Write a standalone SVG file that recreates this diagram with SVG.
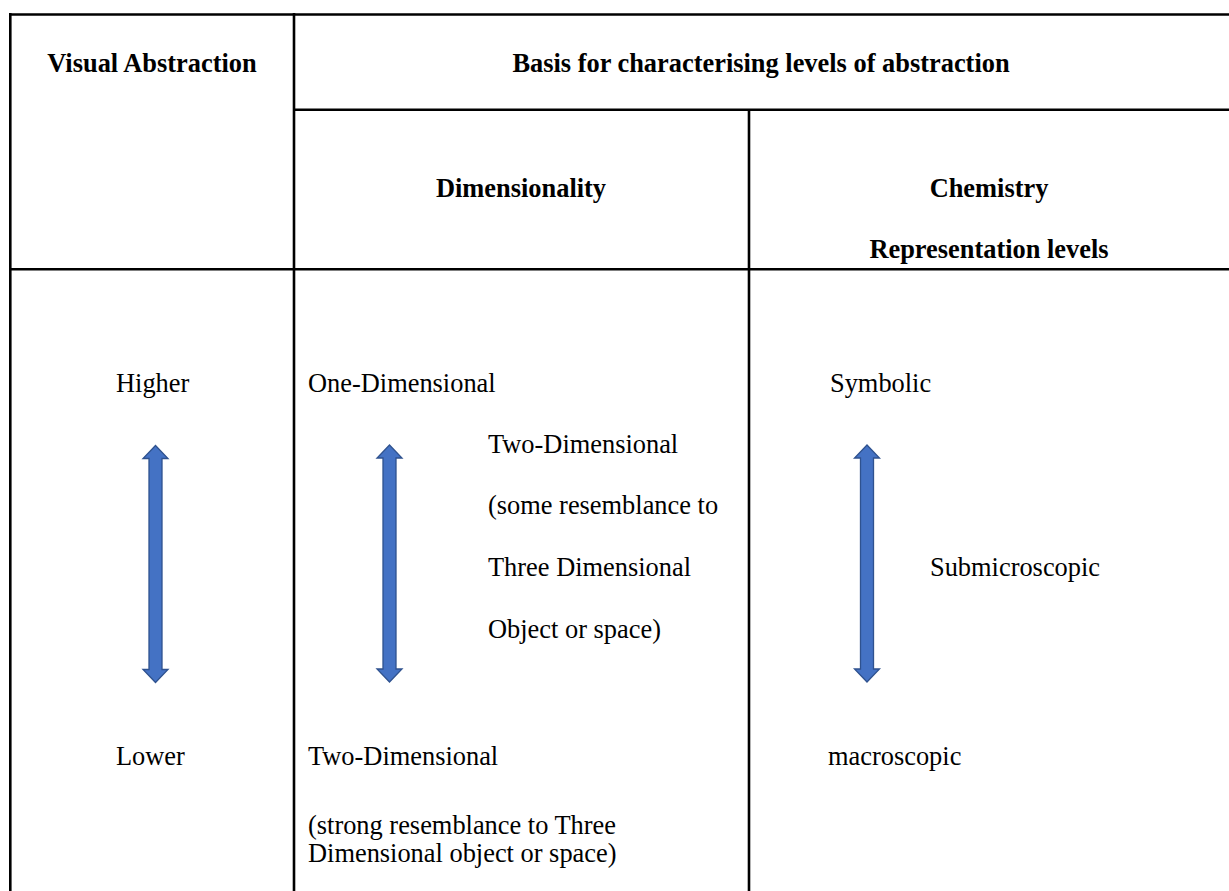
<svg xmlns="http://www.w3.org/2000/svg" xmlns:xlink="http://www.w3.org/1999/xlink" width="1229" height="891" viewBox="0 0 1229 891">
  <style>
    .grid line { stroke: #000; stroke-width: 2.6; }
    text { font-family: "Liberation Serif", "Times New Roman", serif; font-size: 26.4px; fill: #000; }
    .b { font-weight: bold; }
    .c { text-anchor: middle; }
    .arrow { fill: #4472C4; stroke: #2F528F; stroke-width: 1.3; }
  </style>
  <defs>
    <path id="dblArrow" d="M0,0 L12.5,13 L6.5,13 L6.5,224 L12.5,224 L0,237 L-12.5,224 L-6.5,224 L-6.5,13 L-12.5,13 Z"/>
  </defs>
  <rect width="1229" height="891" fill="#fff"/>
  <g id="table" class="grid">
    <line x1="9" y1="14.5" x2="1229" y2="14.5"/>
    <line x1="10.3" y1="13" x2="10.3" y2="891"/>
    <line x1="294" y1="13" x2="294" y2="891"/>
    <line x1="294" y1="109.7" x2="1229" y2="109.7"/>
    <line x1="749" y1="109.7" x2="749" y2="891"/>
    <line x1="9" y1="269.3" x2="1229" y2="269.3"/>
  </g>
  <g id="headers">
    <text class="b c" x="152" y="72">Visual Abstraction</text>
    <text class="b c" x="761" y="72">Basis for characterising levels of abstraction</text>
    <text class="b c" x="521" y="197">Dimensionality</text>
    <text class="b c" x="989" y="197">Chemistry</text>
    <text class="b c" x="989" y="258">Representation levels</text>
  </g>
  <g id="col-visual">
    <text x="116" y="392">Higher</text>
    <text x="116" y="765">Lower</text>
  </g>
  <g id="col-dimensionality">
    <text x="308" y="392">One-Dimensional</text>
    <text x="488" y="453">Two-Dimensional</text>
    <text x="488" y="514">(some resemblance to</text>
    <text x="488" y="576">Three Dimensional</text>
    <text x="488" y="638">Object or space)</text>
    <text x="308" y="765">Two-Dimensional</text>
    <text x="308" y="834">(strong resemblance to Three</text>
    <text x="308" y="862">Dimensional object or space)</text>
  </g>
  <g id="col-chemistry">
    <text x="830" y="392">Symbolic</text>
    <text x="930" y="576">Submicroscopic</text>
    <text x="828" y="765">macroscopic</text>
  </g>
  <g id="connectors">
    <use href="#dblArrow" xlink:href="#dblArrow" class="arrow" transform="translate(155.5,445.5)"/>
    <use href="#dblArrow" xlink:href="#dblArrow" class="arrow" transform="translate(389.5,445)"/>
    <use href="#dblArrow" xlink:href="#dblArrow" class="arrow" transform="translate(867,445)"/>
  </g>
</svg>
